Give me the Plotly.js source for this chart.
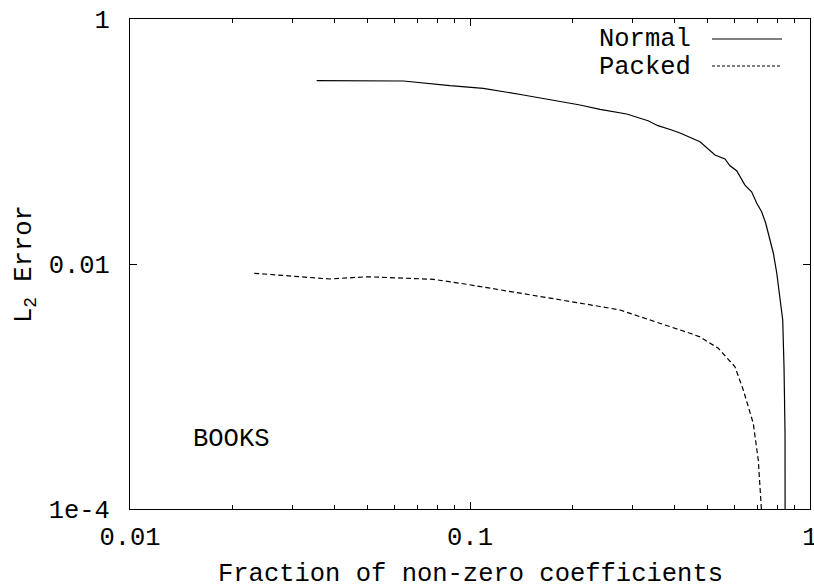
<!DOCTYPE html>
<html>
<head>
<meta charset="utf-8">
<script src="https://cdn.plot.ly/plotly-3.0.1.min.js"></script>
<style>html,body{margin:0;padding:0;background:#fff;}#chart{width:814px;height:586px;}</style>
</head>
<body>
<div id="chart"></div>
<script>
// Data
const normalX = [0.0354, 0.0637, 0.0873, 0.1094, 0.1435, 0.2107, 0.2412, 0.2890, 0.3339, 0.3572, 0.3918, 0.4146, 0.4747, 0.5255, 0.5623, 0.5816, 0.6085, 0.6437, 0.6735, 0.6967, 0.7207, 0.7406, 0.7627, 0.7800, 0.7984, 0.8162, 0.8313, 0.8386, 0.8444, 0.8450];
const normalY = [0.3135, 0.3118, 0.2854, 0.2718, 0.2397, 0.1986, 0.1832, 0.1677, 0.1478, 0.1346, 0.1242, 0.1173, 0.0996, 0.0776, 0.0720, 0.0634, 0.0578, 0.0441, 0.0389, 0.0315, 0.0267, 0.0216, 0.0157, 0.0123, 0.00844, 0.00541, 0.00349, 0.00145, 0.000417, 0.00005];
const packedX = [0.0232, 0.03875, 0.0497, 0.0780, 0.0978, 0.1532, 0.2412, 0.2762, 0.3384, 0.3789, 0.4437, 0.4747, 0.5375, 0.6016, 0.6364, 0.6809, 0.7045, 0.7310];
const packedY = [0.00840, 0.00754, 0.00787, 0.00750, 0.00683, 0.00558, 0.00450, 0.00421, 0.00349, 0.00318, 0.00272, 0.00254, 0.00205, 0.00145, 0.000936, 0.000501, 0.000251, 0.00005];
const seriesNames = ["Normal", "Packed"];
const xTickVals = [0.01, 0.1, 1];
const xTickText = ["0.01", "0.1", "1"];
const xMinorVals = [0.02,0.03,0.04,0.05,0.06,0.07,0.08,0.09,0.2,0.3,0.4,0.5,0.6,0.7,0.8,0.9];
const yTickVals = [0.0001, 0.01, 1];
const yTickText = ["1e-4", "0.01", "1"];
const xTitle = "Fraction of non-zero coefficients";
const yTitle = "L<sub>2</sub> Error";
const datasetLabel = "BOOKS";

const FONT = "'Liberation Mono', 'Courier New', Courier, monospace";
const FS = 25.5;

const traces = [
  {x: normalX, y: normalY, name: seriesNames[0], type: "scatter", mode: "lines",
   line: {color: "#000", width: 1.2}, showlegend: false},
  {x: packedX, y: packedY, name: seriesNames[1], type: "scatter", mode: "lines",
   line: {color: "#000", width: 1.2, dash: "5px,3px"}, showlegend: false}
];

const layout = {
  width: 814, height: 586,
  margin: {l: 130, r: 4, t: 19, b: 77},
  paper_bgcolor: "#fff", plot_bgcolor: "#fff",
  font: {family: FONT, size: FS, color: "#000"},
  xaxis: {
    type: "log", range: [-2, 0],
    tickvals: xTickVals, ticktext: xTickText,
    ticks: "inside", ticklen: 7, tickwidth: 1, tickcolor: "#000",
    minor: {tickvals: xMinorVals, ticks: "inside", ticklen: 4, tickwidth: 1, tickcolor: "#000", showgrid: false},
    showline: true, linecolor: "#000", linewidth: 1, mirror: "allticks",
    showgrid: false, zeroline: false,
    tickfont: {family: FONT, size: FS, color: "#000"},
    ticklabelstandoff: 4, ticklabeloverflow: "allow"
  },
  yaxis: {
    type: "log", range: [-4, 0],
    tickvals: yTickVals, ticktext: yTickText,
    ticks: "inside", ticklen: 7, tickwidth: 1, tickcolor: "#000",
    showline: true, linecolor: "#000", linewidth: 1, mirror: "allticks",
    showgrid: false, zeroline: false,
    tickfont: {family: FONT, size: FS, color: "#000"},
    ticklabelstandoff: 14, ticklabeloverflow: "allow"
  },
  annotations: [
    {text: xTitle, xref: "paper", yref: "paper", x: 0.5, y: (509 - 574) / 490,
     xanchor: "center", yanchor: "middle", showarrow: false,
     font: {family: FONT, size: FS, color: "#000"}},
    {text: yTitle, xref: "paper", yref: "paper", x: (25 - 130) / 680, y: 0.5,
     xanchor: "center", yanchor: "middle", showarrow: false, textangle: -90,
     font: {family: FONT, size: FS, color: "#000"}},
    {text: datasetLabel, xref: "paper", yref: "paper", x: (191 - 130) / 680, y: (509 - 439) / 490,
     xanchor: "left", yanchor: "middle", showarrow: false,
     font: {family: FONT, size: FS, color: "#000"}},
    {text: seriesNames[0], xref: "paper", yref: "paper", x: (693 - 130) / 680, y: (509 - 40) / 490,
     xanchor: "right", yanchor: "middle", showarrow: false,
     font: {family: FONT, size: FS, color: "#000"}},
    {text: seriesNames[1], xref: "paper", yref: "paper", x: (693 - 130) / 680, y: (509 - 68) / 490,
     xanchor: "right", yanchor: "middle", showarrow: false,
     font: {family: FONT, size: FS, color: "#000"}}
  ],
  shapes: [
    {type: "line", xref: "paper", yref: "paper",
     x0: (712 - 130) / 680, x1: (782 - 130) / 680, y0: (509 - 39) / 490, y1: (509 - 39) / 490,
     line: {color: "#000", width: 1.2}},
    {type: "line", xref: "paper", yref: "paper",
     x0: (712 - 130) / 680, x1: (782 - 130) / 680, y0: (509 - 66) / 490, y1: (509 - 66) / 490,
     line: {color: "#000", width: 1.2, dash: "3px,2px"}}
  ]
};

Plotly.newPlot("chart", traces, layout, {displayModeBar: false, staticPlot: true});
</script>
</body>
</html>
